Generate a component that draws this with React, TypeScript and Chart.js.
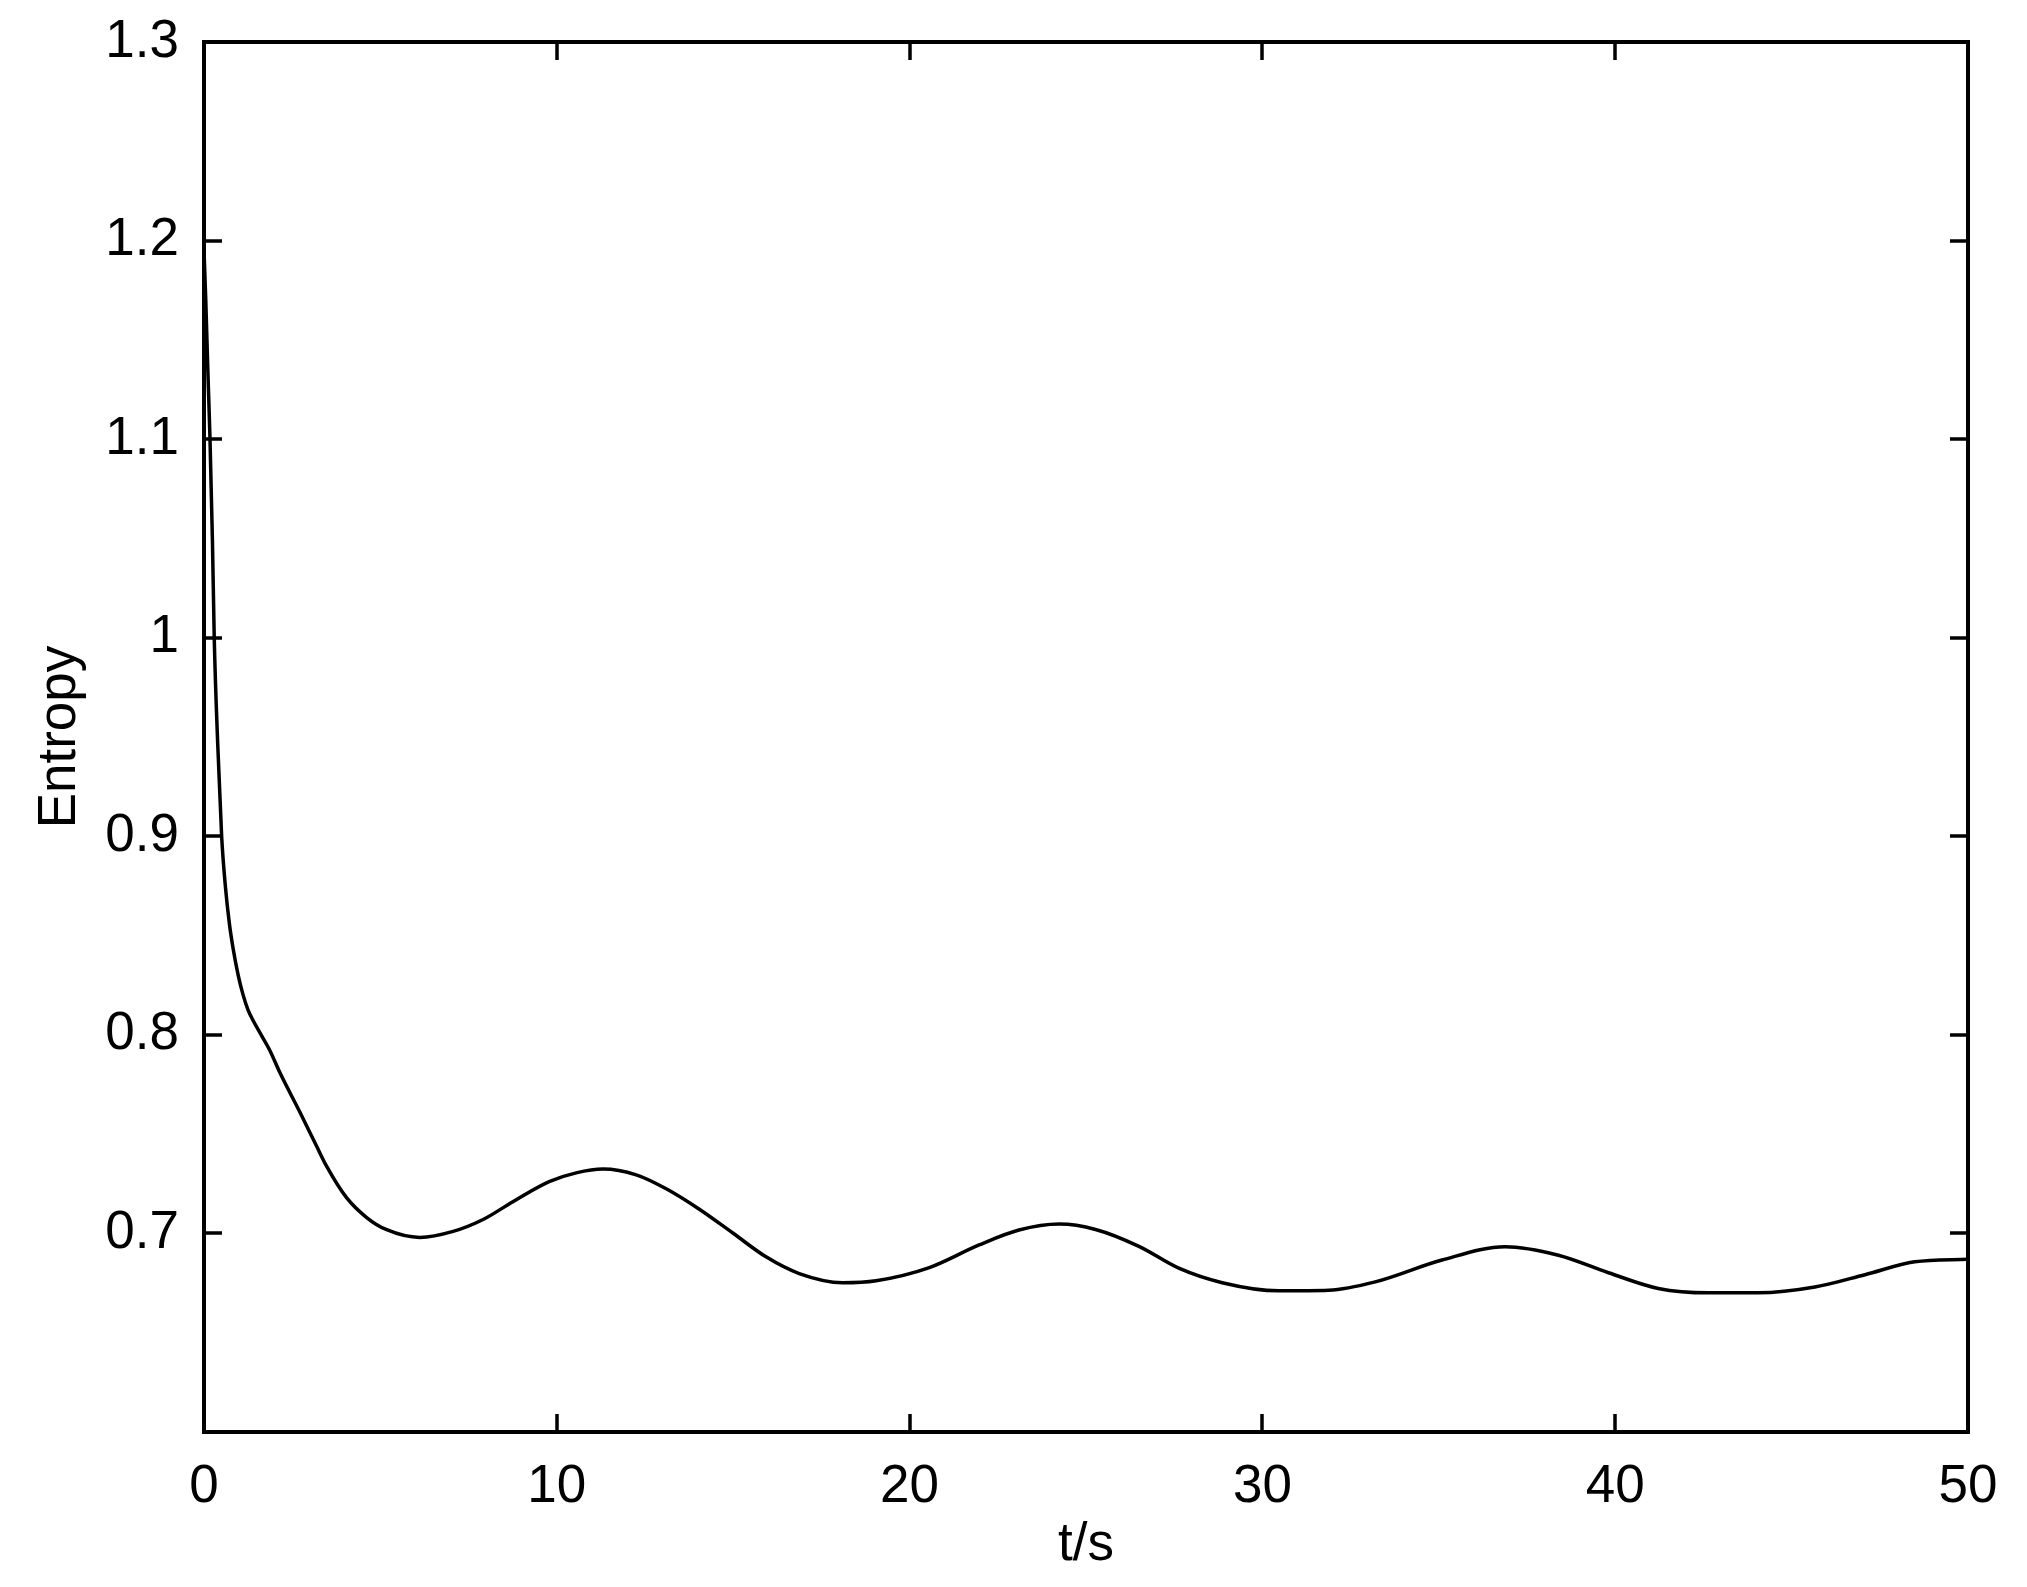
import React, { useEffect, useRef } from "react";
import { Chart, registerables } from "chart.js";

Chart.register(...registerables);

const timeValues = [
  0, 0.05, 0.11, 0.17, 0.24, 0.29, 0.39, 0.5, 0.61, 0.72, 0.83, 0.97, 1.11, 1.25, 1.4, 1.62, 1.87, 2.15, 2.72,
  3.19, 3.47, 4.04, 4.61, 5.16, 6.12, 7.06, 7.91, 8.85, 9.8, 10.55, 11.31, 12.25, 13.1, 14.04, 14.99, 15.93,
  16.87, 18.1, 19.05, 20.56, 21.97, 23.1, 24.24, 25.27, 26.5, 27.63, 28.86, 30.46, 31.88, 33.2, 35.09, 36.88,
  38.39, 39.81, 41.22, 42.64, 44.05, 45.66, 47.08, 48.49, 50,
];
const entropyValues = [
  1.195, 1.17, 1.134, 1.1, 1.048, 1.0, 0.946, 0.9, 0.874, 0.856, 0.843, 0.83, 0.82, 0.8125, 0.807, 0.8, 0.792,
  0.781, 0.761, 0.744, 0.734, 0.718, 0.708, 0.702, 0.698, 0.701, 0.707, 0.717, 0.7262, 0.7305, 0.7324, 0.7295,
  0.7225, 0.7122, 0.7002, 0.6882, 0.6798, 0.6752, 0.6762, 0.6828, 0.6942, 0.7017, 0.7047, 0.702, 0.6935,
  0.6825, 0.6752, 0.6711, 0.6714, 0.6756, 0.6866, 0.6933, 0.689, 0.6802, 0.6723, 0.6701, 0.6701, 0.673,
  0.6792, 0.6857, 0.687,
];
const xTickValues = [0, 10, 20, 30, 40, 50];
const yTickValues = [0.7, 0.8, 0.9, 1.0, 1.1, 1.2, 1.3];
const xAxisTitle = "t/s";
const yAxisTitle = "Entropy";

const FONT = "'Liberation Sans', Arial, Helvetica, sans-serif";

const boxTicksPlugin = {
  id: "boxTicks",
  afterDatasetsDraw(chart: any) {
    const { ctx, chartArea, scales } = chart;
    const { left, right, top, bottom } = chartArea;
    const tickLen = 18;
    ctx.save();
    ctx.strokeStyle = "#000";
    ctx.lineCap = "butt";
    ctx.lineWidth = 3.5;
    ctx.beginPath();
    for (const v of xTickValues) {
      const px = Math.round(scales.x.getPixelForValue(v));
      ctx.moveTo(px, bottom);
      ctx.lineTo(px, bottom - tickLen);
      ctx.moveTo(px, top);
      ctx.lineTo(px, top + tickLen);
    }
    for (const v of yTickValues) {
      const py = Math.round(scales.y.getPixelForValue(v));
      ctx.moveTo(left, py);
      ctx.lineTo(left + tickLen, py);
      ctx.moveTo(right, py);
      ctx.lineTo(right - tickLen, py);
    }
    ctx.stroke();
    ctx.lineWidth = 4;
    ctx.strokeRect(left, top, right - left, bottom - top);
    ctx.restore();
  },
};

export default function App() {
  const canvasRef = useRef<HTMLCanvasElement | null>(null);

  useEffect(() => {
    if (!canvasRef.current) return;
    const points = timeValues.map((t, i) => ({ x: t, y: entropyValues[i] }));
    const chart = new Chart(canvasRef.current, {
      type: "line",
      data: {
        datasets: [
          {
            data: points,
            borderColor: "#000",
            borderWidth: 3.5,
            pointRadius: 0,
            fill: false,
            cubicInterpolationMode: "monotone",
          },
        ],
      },
      options: {
        responsive: false,
        animation: false,
        events: [],
        layout: { padding: { left: 0, right: 59, top: 42, bottom: 0 } },
        plugins: {
          legend: { display: false },
          tooltip: { enabled: false },
        },
        scales: {
          x: {
            type: "linear",
            min: 0,
            max: 50,
            grid: { display: false },
            border: { display: false },
            afterFit: (scale: any) => {
              scale.height = 155;
              scale.paddingLeft = 0;
              scale.paddingRight = 0;
            },
            afterBuildTicks: (scale: any) => {
              scale.ticks = xTickValues.map((v) => ({ value: v }));
            },
            ticks: {
              color: "#000",
              padding: 16,
              maxRotation: 0,
              autoSkip: false,
              font: { family: FONT, size: 53 },
              callback: (v: any) => String(v),
            },
            title: {
              display: true,
              text: xAxisTitle,
              color: "#000",
              padding: { top: 0, bottom: 10 },
              font: { family: FONT, size: 53 },
            },
          },
          y: {
            type: "linear",
            min: 0.6,
            max: 1.3,
            grid: { display: false },
            border: { display: false },
            afterFit: (scale: any) => {
              scale.width = 204;
              scale.paddingTop = 0;
              scale.paddingBottom = 0;
            },
            afterBuildTicks: (scale: any) => {
              scale.ticks = yTickValues.map((v) => ({ value: v }));
            },
            ticks: {
              color: "#000",
              padding: 17,
              autoSkip: false,
              font: { family: FONT, size: 53 },
              callback: (v: any) => String(Math.round(Number(v) * 10) / 10),
            },
            title: {
              display: true,
              text: yAxisTitle,
              color: "#000",
              padding: { top: 29, bottom: 0 },
              font: { family: FONT, size: 53 },
            },
          },
        },
      },
      plugins: [boxTicksPlugin],
    });
    return () => chart.destroy();
  }, []);

  return (
    <div style={{ position: "absolute", left: 0, top: 0, width: 2027, height: 1587, background: "#fff" }}>
      <canvas ref={canvasRef} width={2027} height={1587} style={{ display: "block" }} />
    </div>
  );
}
